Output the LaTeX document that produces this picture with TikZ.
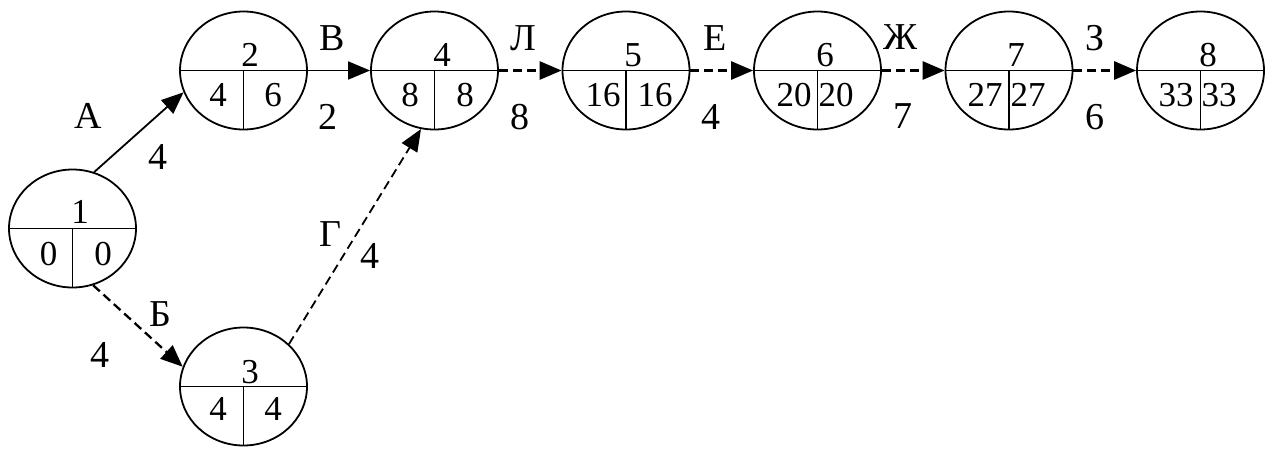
\documentclass[tikz,border=0pt]{standalone}
\usepackage{fontspec}
\setmainfont{Liberation Serif}
\usetikzlibrary{arrows.meta,shapes.geometric}
\begin{document}
\begin{tikzpicture}[x=1pt,y=-1pt,
  ev/.style={draw,ellipse,line width=1.8pt,minimum width=127pt,minimum height=118pt,inner sep=0pt},
  sep/.style={line width=1.8pt},
  num/.style={inner sep=0pt,font=\fontsize{35}{35}\selectfont},
  lab/.style={inner sep=0pt,font=\fontsize{38}{38}\selectfont},
  arr/.style={line width=1.8pt,-{Triangle[length=22pt,width=18pt]}},
  dsh/.style={arr,line width=2.8pt,dash pattern=on 9pt off 5pt},
  dsht/.style={arr,line width=1.8pt,dash pattern=on 9pt off 5pt}]
\useasboundingbox (0,0) rectangle (1274,448);
% events
\node[ev] (n1) at (72.5,228.5) {};
\node[ev] (n2) at (243.5,70.5) {};
\node[ev] (n3) at (243.5,386.5) {};
\node[ev] (n4) at (434.5,70.5) {};
\node[ev] (n5) at (626,70.5) {};
\node[ev] (n6) at (817.5,70.5) {};
\node[ev] (n7) at (1009,70.5) {};
\node[ev] (n8) at (1200.5,70.5) {};
\foreach \n in {n1,n2,n3,n4,n5,n6,n7,n8}{
  \draw[sep] (\n.west) -- (\n.east);
  \draw[sep] (\n.center) -- (\n.south);
}
% numbers
\node[num] (t1) at (80,212) {1};
\node[num] (a1) at (48.5,254) {0};
\node[num] (b1) at (103,254) {0};
\node[num] (t2) at (250,55) {2};
\node[num] (a2) at (218,95) {4};
\node[num] (b2) at (273,95) {6};
\node[num] (t3) at (250,372) {3};
\node[num] (a3) at (218,409) {4};
\node[num] (b3) at (273,409) {4};
\node[num] (t4) at (442,55) {4};
\node[num] (a4) at (410,95) {8};
\node[num] (b4) at (465,95) {8};
\node[num] (t5) at (633,55) {5};
\node[num] (a5) at (603,95) {16};
\node[num] (b5) at (655,95) {16};
\node[num] (t6) at (825,55) {6};
\node[num] (a6) at (794,95) {20};
\node[num] (b6) at (836,95) {20};
\node[num] (t7) at (1016,55) {7};
\node[num] (a7) at (985,95) {27};
\node[num] (b7) at (1028,95) {27};
\node[num] (t8) at (1208,55) {8};
\node[num] (a8) at (1176,95) {33};
\node[num] (b8) at (1219,95) {33};
% arrows
\draw[arr] (n1.69.6) -- (n2.200);
\draw[dsh,line width=2.3pt] (n1.-70) -- (n3.162);
\draw[dsht] (n3.43) -- (n4.257);
\draw[arr] (n2.east) -- (n4.west);
\draw[dsh] (n4.east) -- (n5.west);
\draw[dsh] (n5.east) -- (n6.west);
\draw[dsh] (n6.east) -- (n7.west);
\draw[dsh] (n7.east) -- (n8.west);
% labels
\node[lab] (lA) at (88,116) {А};
\node[lab] (dA) at (158,157) {4};
\node[lab] (lB) at (160,314) {Б};
\node[lab] (dB) at (100,355) {4};
\node[lab] (lV) at (332,38) {В};
\node[lab] (dV) at (328,117) {2};
\node[lab] (lG) at (330,234) {Г};
\node[lab] (dG) at (370,256) {4};
\node[lab] (lL) at (523,38) {Л};
\node[lab] (dL) at (520,117) {8};
\node[lab] (lE) at (715,38) {Е};
\node[lab] (dE) at (711,117) {4};
\node[lab] (lZh) at (901,37) {Ж};
\node[lab] (dZh) at (903,116) {7};
\node[lab] (lZ) at (1095,38) {З};
\node[lab] (dZ) at (1095,117) {6};
\end{tikzpicture}
\end{document}
